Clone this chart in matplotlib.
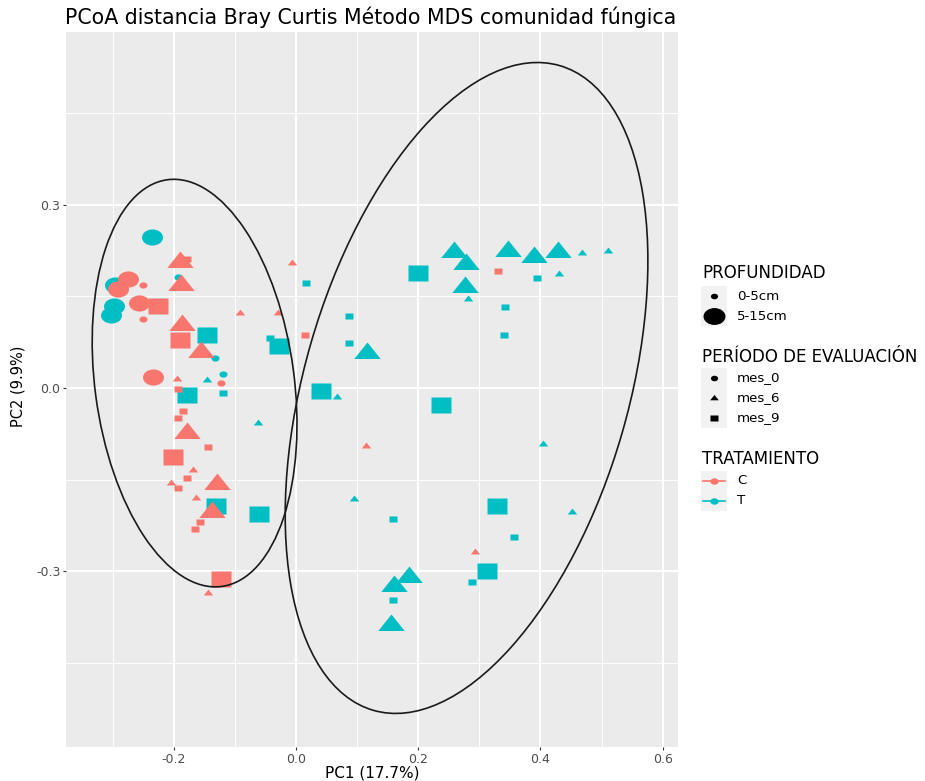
import numpy as np
import pandas as pd
import matplotlib
matplotlib.use("Agg")
import matplotlib.pyplot as plt
from matplotlib.path import Path
from matplotlib.patches import Ellipse, Rectangle

# PCoA scores
pc1 = [
    # T mes_0 5-15cm / 0-5cm
    -0.236, -0.297, -0.298, -0.302,
    -0.193, -0.132, -0.119,
    # T mes_6 5-15cm / 0-5cm
    0.258, 0.278, 0.276, 0.347, 0.390, 0.429, 0.116, 0.185, 0.161, 0.156,
    0.281, 0.468, 0.510, 0.431, -0.146, 0.067, -0.063, 0.404, 0.095, 0.452,
    # T mes_9 5-15cm / 0-5cm
    0.200, -0.146, -0.028, -0.178, 0.041, 0.237, -0.131, -0.060, 0.329, 0.312,
    0.016, -0.042, -0.119, 0.087, 0.087, 0.395, 0.342, 0.340, 0.159, 0.357, 0.288, 0.159,
    # C mes_0 5-15cm / 0-5cm
    -0.275, -0.292, -0.257, -0.234,
    -0.251, -0.251, -0.123,
    # C mes_6 5-15cm / 0-5cm
    -0.190, -0.188, -0.187, -0.155, -0.178, -0.129, -0.137,
    -0.007, -0.091, -0.030, -0.195, -0.169, -0.205, -0.164, -0.144, 0.115, 0.293,
    # C mes_9 5-15cm / 0-5cm
    -0.226, -0.190, -0.201, -0.123,
    -0.178, 0.014, 0.330, -0.193, -0.185, -0.193, -0.144, -0.178, -0.193, -0.157, -0.165,
]
pc2 = [
    0.248, 0.169, 0.134, 0.120,
    0.182, 0.049, 0.023,
    0.223, 0.203, 0.166, 0.225, 0.215, 0.223, 0.057, -0.310, -0.325, -0.389,
    0.146, 0.221, 0.225, 0.187, 0.013, -0.015, -0.057, -0.092, -0.182, -0.203,
    0.189, 0.087, 0.069, -0.011, -0.005, -0.028, -0.193, -0.207, -0.193, -0.300,
    0.172, 0.082, -0.008, 0.118, 0.074, 0.180, 0.133, 0.087, -0.215, -0.244, -0.318, -0.348,
    0.179, 0.162, 0.139, 0.018,
    0.169, 0.113, 0.008,
    0.207, 0.169, 0.103, 0.059, -0.074, -0.157, -0.203,
    0.205, 0.123, 0.123, 0.015, -0.134, -0.156, -0.180, -0.336, -0.095, -0.269,
    0.134, 0.079, -0.113, -0.313,
    0.211, 0.087, 0.192, -0.002, -0.038, -0.049, -0.097, -0.148, -0.164, -0.220, -0.231,
]
tratamiento = ["T"] * 49 + ["C"] * 39
periodo = (["mes_0"] * 7 + ["mes_6"] * 20 + ["mes_9"] * 22
           + ["mes_0"] * 7 + ["mes_6"] * 17 + ["mes_9"] * 15)
profundidad = (["5-15cm"] * 4 + ["0-5cm"] * 3 + ["5-15cm"] * 10 + ["0-5cm"] * 10
               + ["5-15cm"] * 10 + ["0-5cm"] * 12
               + ["5-15cm"] * 4 + ["0-5cm"] * 3 + ["5-15cm"] * 7 + ["0-5cm"] * 10
               + ["5-15cm"] * 4 + ["0-5cm"] * 11)

# confidence ellipses (centre, width, height, angle)
elipse_centro = [(-0.166, 0.008), (0.279, 0.0)]
elipse_ancho = [0.326, 0.530]
elipse_alto = [0.672, 1.099]
elipse_angulo = [7.6, -16.1]

df = pd.DataFrame({"pc1": pc1, "pc2": pc2, "trat": tratamiento,
                   "periodo": periodo, "prof": profundidad})

colores = {"C": "#F8766D", "T": "#00BFC4"}

# the reference is stretched sideways, so markers are wider than tall
sx = 1.3
circ = Path.unit_circle()
m_circ = Path(circ.vertices * [sx, 1], circ.codes)
m_tri = Path([(0, 1), (-1.2, -0.5), (1.2, -0.5), (0, 1)],
             [Path.MOVETO, Path.LINETO, Path.LINETO, Path.CLOSEPOLY])
m_sq = Path(np.array([(-1, -1), (1, -1), (1, 1), (-1, 1), (-1, -1)]) * [sx, 1],
            [Path.MOVETO, Path.LINETO, Path.LINETO, Path.LINETO, Path.CLOSEPOLY])
formas = {"mes_0": m_circ, "mes_6": m_tri, "mes_9": m_sq}
tam = {("mes_0", "0-5cm"): 5.8, ("mes_0", "5-15cm"): 15.1,
       ("mes_6", "0-5cm"): 6.8, ("mes_6", "5-15cm"): 19.0,
       ("mes_9", "0-5cm"): 5.8, ("mes_9", "5-15cm"): 15.1}

W, H = 925, 781
fig = plt.figure(figsize=(W / 100, H / 100), dpi=100)
ax = fig.add_axes([66 / W, 1 - 747 / H, (678 - 66) / W, (747 - 32) / H])
ax.set_facecolor("#EBEBEB")
for s in ax.spines.values():
    s.set_visible(False)

ax.set_xlim(-0.3764, 0.625)
ax.set_ylim(-0.588, 0.583)
ax.set_xticks([-0.2, 0.0, 0.2, 0.4, 0.6])
ax.set_xticklabels(["-0.2", "0.0", "0.2", "0.4", "0.6"])
ax.set_yticks([-0.3, 0.0, 0.3])
ax.set_yticklabels(["-0.3", "0.0", "0.3"])
ax.set_xticks([-0.3, -0.1, 0.1, 0.3, 0.5], minor=True)
ax.set_yticks([-0.45, -0.15, 0.15, 0.45], minor=True)
ax.grid(which="major", color="white", lw=1.4)
ax.grid(which="minor", color="white", lw=0.7)
ax.set_axisbelow(True)
ax.tick_params(which="major", length=2.5, width=0.8, color="#333333",
               labelcolor="#4D4D4D", labelsize=9, pad=1.5)
ax.tick_params(which="minor", length=0)

for t in ["T", "C"]:
    for per in ["mes_0", "mes_6", "mes_9"]:
        for pr in ["5-15cm", "0-5cm"]:
            sub = df[(df.trat == t) & (df.periodo == per) & (df.prof == pr)]
            ax.plot(sub.pc1, sub.pc2, ls="none", marker=formas[per],
                    ms=tam[(per, pr)], mfc=colores[t], mec="none", zorder=3)

for c, w, h, a in zip(elipse_centro, elipse_ancho, elipse_alto, elipse_angulo):
    ax.add_patch(Ellipse(c, w, h, angle=a, fill=False, ec="#1A1A1A", lw=1.2, zorder=4))

fig.text(65 / W, 1 - 17 / H, "PCoA distancia Bray Curtis Método MDS comunidad fúngica",
         ha="left", va="center", fontsize=14.8, color="black")
fig.text(372 / W, 1 - 773 / H, "PC1 (17.7%)", ha="center", va="center", fontsize=11)
fig.text(18 / W, 1 - 386 / H, "PC2 (9.9%)", ha="center", va="center",
         rotation=90, fontsize=10.5)

# legends drawn in pixel space
lax = fig.add_axes([0, 0, 1, 1], zorder=5)
lax.set_xlim(0, W)
lax.set_ylim(H, 0)
lax.axis("off")

def titulo(y, txt):
    lax.text(702, y, txt, ha="left", va="center", fontsize=12, color="black")

def caja(y0, n):
    lax.add_patch(Rectangle((701, y0), 26, 20 * n, fc="#F2F2F2", ec="none"))

def etiqueta(y, txt):
    lax.text(737, y, txt, ha="left", va="center", fontsize=9.6, color="black")

titulo(273, "PROFUNDIDAD")
caja(286, 2)
lax.plot(714, 296, ls="none", marker=m_circ, ms=5.2, mfc="black", mec="none")
lax.plot(714, 316, ls="none", marker=m_circ, ms=15.8, mfc="black", mec="none")
etiqueta(296, "0-5cm")
etiqueta(316, "5-15cm")

titulo(357, "PERÍODO DE EVALUACIÓN")
caja(368, 3)
for y, per in zip([378, 398, 418], ["mes_0", "mes_6", "mes_9"]):
    lax.plot(714, y, ls="none", marker=formas[per], ms=5.2 if per != "mes_6" else 6.2,
             mfc="black", mec="none")
    etiqueta(y, per)

titulo(459, "TRATAMIENTO")
caja(471, 2)
for y, t in zip([481, 501], ["C", "T"]):
    lax.plot([703, 725], [y, y], color=colores[t], lw=1.2)
    lax.plot(714, y, ls="none", marker=m_circ, ms=6, mfc=colores[t], mec="none")
    etiqueta(y, t)

fig.savefig("out.png", dpi=100)
